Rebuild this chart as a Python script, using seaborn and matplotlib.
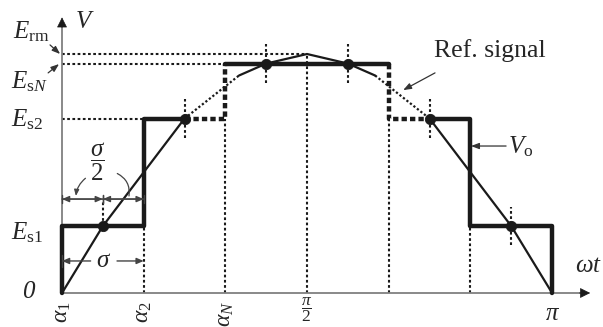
import numpy as np
import pandas as pd
import seaborn as sns
import matplotlib
matplotlib.use("Agg")
import matplotlib.pyplot as plt

# staircase data (angles in degrees, levels relative to E_rm)
step_edges = [0, 30, 60, 120, 150, 180]          # alpha1, alpha2, alphaN, pi-alphaN, pi-alpha2, pi
step_levels = [0.28, 0.73, 0.96, 0.73, 0.28]     # Es1, Es2, EsN, Es2, Es1
E_rm = 1.0

ref_x = [0, 15, 45, 65, 75, 90, 105, 115, 135, 165, 180]
ref_y = [0, 0.28, 0.73, 0.91, 0.96, 1.0, 0.96, 0.91, 0.73, 0.28, 0]

# sampling points (mid-step)
dot_x = [15, 45, 75, 105, 135, 165]
dot_y = [0.28, 0.73, 0.96, 0.96, 0.73, 0.28]

sns.set_theme(style="white")
plt.rcParams['font.family'] = ['Liberation Serif', 'DejaVu Serif']
plt.rcParams['mathtext.fontset'] = 'custom'
plt.rcParams['mathtext.rm'] = 'Liberation Serif'
plt.rcParams['mathtext.it'] = 'Liberation Serif:italic'
plt.rcParams['mathtext.bf'] = 'Liberation Serif:bold'

fig = plt.figure(figsize=(6.03, 3.27), dpi=100)
ax = fig.add_axes([0, 0, 1, 1])
ax.set_xlim(-22.78, 198.7)
ax.set_ylim(-0.1423, 1.226)
ax.axis('off')

dot_ls = (0, (1.3, 1.2))

# guide lines
Es1, Es2, EsN = step_levels[0], step_levels[1], step_levels[2]
ax.plot([0, 90], [E_rm, E_rm], color='k', lw=1.5, ls=dot_ls)
ax.plot([0, step_edges[2]], [EsN, EsN], color='k', lw=1.5, ls=dot_ls)
ax.plot([0, step_edges[1]], [Es2, Es2], color='k', lw=1.5, ls=dot_ls)
ax.plot([90, 90], [0, E_rm], color='k', lw=1.5, ls=dot_ls)
for i in range(1, 5):
    lev = min(step_levels[i - 1], step_levels[i])
    ax.plot([step_edges[i]] * 2, [0, lev], color='k', lw=1.5, ls=dot_ls)
for j, (dx, dy) in enumerate(zip(dot_x, dot_y)):
    lo = dy if j == 0 else dy - 0.08
    hi = 0.39 if j == 0 else dy + 0.08
    ax.plot([dx, dx], [lo, hi], color='k', lw=1.5, ls=dot_ls)

# axes with arrows
ax.plot([0, 0], [0, 1.12], color='#808080', lw=1.3)
ax.plot([0, 192], [0, 0], color='#808080', lw=1.3)
ax.annotate('', xy=(0, 1.165), xytext=(0, 1.10),
            arrowprops=dict(arrowstyle='-|>', color='k', lw=0.5, mutation_scale=16))
ax.annotate('', xy=(195, 0), xytext=(189, 0),
            arrowprops=dict(arrowstyle='-|>', color='k', lw=0.5, mutation_scale=16))

# staircase output V_o
sx, sy = [0], [0]
for i, lev in enumerate(step_levels):
    sx += [step_edges[i], step_edges[i + 1]]
    sy += [lev, lev]
sx.append(step_edges[-1])
sy.append(0)
stair = pd.DataFrame({'x': sx, 'y': sy})
solid1 = pd.concat([stair.iloc[:4], pd.DataFrame({'x': [dot_x[1]], 'y': [Es2]})])
dash1 = pd.DataFrame({'x': [dot_x[1], step_edges[2], step_edges[2]], 'y': [Es2, Es2, EsN]})
solid2 = stair.iloc[5:7]
dash2 = pd.DataFrame({'x': [step_edges[3], step_edges[3], dot_x[4]], 'y': [EsN, Es2, Es2]})
solid3 = pd.concat([pd.DataFrame({'x': [dot_x[4]], 'y': [Es2]}), stair.iloc[8:]])

for seg in [solid1, solid2, solid3]:
    sns.lineplot(data=seg, x='x', y='y', sort=False, estimator=None, color='k', lw=3.2, ax=ax)
for seg in [dash1, dash2]:
    sns.lineplot(data=seg, x='x', y='y', sort=False, estimator=None, color='k', lw=3.2,
                 ls=(0, (1.2, 0.7)), ax=ax)

# reference signal
ref = pd.DataFrame({'x': ref_x, 'y': ref_y})
for a, b in [(0, 45), (65, 115), (135, 180)]:
    part = ref[(ref.x >= a) & (ref.x <= b)]
    sns.lineplot(data=part, x='x', y='y', sort=False, estimator=None, color='k', lw=1.6, ax=ax)
for a, b in [(45, 65), (115, 135)]:
    part = ref[(ref.x >= a) & (ref.x <= b)]
    sns.lineplot(data=part, x='x', y='y', sort=False, estimator=None, color='k', lw=1.6,
                 ls=(0, (1, 1)), ax=ax)

sns.scatterplot(x=dot_x, y=dot_y, color='k', s=55, edgecolor='k', zorder=5, ax=ax)

# dimension arrows sigma/2 and sigma
dim = dict(arrowstyle='|-|,widthA=0.25,widthB=0.25', color='#444444', lw=1.0,
           shrinkA=0, shrinkB=0)
head = dict(arrowstyle='<|-|>,head_length=0.35,head_width=0.15', color='#444444', lw=1.0,
            shrinkA=0, shrinkB=0)
for a, b in [(0, dot_x[0]), (dot_x[0], step_edges[1])]:
    ax.annotate('', xy=(b, 0.393), xytext=(a, 0.393), arrowprops=head)
    ax.annotate('', xy=(b, 0.393), xytext=(a, 0.393), arrowprops=dim)
ax.annotate('', xy=(0, 0.134), xytext=(10.5, 0.134),
            arrowprops=dict(arrowstyle='-|>,head_length=0.35,head_width=0.15', color='#444444',
                            lw=1.0, shrinkA=0, shrinkB=0))
ax.annotate('', xy=(step_edges[1], 0.134), xytext=(20.2, 0.134),
            arrowprops=dict(arrowstyle='-|>,head_length=0.35,head_width=0.15', color='#444444',
                            lw=1.0, shrinkA=0, shrinkB=0))
ax.plot([0, 0], [0.11, 0.16], color='#444444', lw=1.0)
ax.text(15.1, 0.134, r'$\sigma$', fontsize=18, ha='center', va='center')
ax.text(13.2, 0.548, r'$\dfrac{\sigma}{2}$', fontsize=18, ha='center', va='center')
ax.annotate('', xy=(5.1, 0.406), xytext=(8.6, 0.48),
            arrowprops=dict(arrowstyle='-|>,head_length=0.3,head_width=0.12', color='#444444',
                            lw=0.9, connectionstyle='arc3,rad=0.2', shrinkA=0, shrinkB=0))
ax.annotate('', xy=(24.6, 0.406), xytext=(20.3, 0.50),
            arrowprops=dict(arrowstyle='-', color='#444444', lw=0.9,
                            connectionstyle='arc3,rad=-0.35', shrinkA=0, shrinkB=0))

# labels
lab = dict(fontsize=18, ha='center', va='center')
ax.text(-11.4, 1.092, r'$E_{\mathrm{rm}}$', **lab)
ax.text(-11.8, 0.883, r'$E_{\mathrm{s}N}$', **lab)
ax.text(-12.9, 0.724, r'$E_{\mathrm{s2}}$', **lab)
ax.text(-12.9, 0.251, r'$E_{\mathrm{s1}}$', **lab)
ax.text(-12.5, 0.004, '0', style='italic', **lab)
ax.text(8.4, 1.134, r'$V$', **lab)
ax.text(198.5, 0.113, r'$\omega t$', fontsize=18, ha='right', va='center')
ax.text(168.5, 0.611, r'$V_{\mathrm{o}}$', **lab)
ax.text(157.2, 1.015, 'Ref. signal', fontsize=18.5, ha='center', va='center')

arr = dict(arrowstyle='-|>,head_length=0.4,head_width=0.15', color='#333333', lw=0.9,
           shrinkA=0, shrinkB=0)
ax.annotate('', xy=(-0.7, 1.0), xytext=(-4.4, 1.038), arrowprops=arr)
ax.annotate('', xy=(-1.1, 0.958), xytext=(-5.1, 0.921), arrowprops=arr)
ax.annotate('', xy=(125.3, 0.849), xytext=(137.0, 0.921), arrowprops=arr)
ax.annotate('', xy=(150.2, 0.615), xytext=(163.1, 0.615), arrowprops=arr)

# x-axis labels
ax.text(step_edges[0], -0.033, r'$\alpha_1$', fontsize=17, rotation=90, ha='center', va='top')
ax.text(step_edges[1], -0.033, r'$\alpha_2$', fontsize=17, rotation=90, ha='center', va='top')
ax.text(step_edges[2], -0.033, r'$\alpha_N$', fontsize=17, rotation=90, ha='center', va='top')
ax.text(90, -0.012, r'$\dfrac{\pi}{2}$', fontsize=12.5, ha='center', va='top')
ax.text(180, -0.042, r'$\pi$', fontsize=18, ha='center', va='top')

fig.savefig('out.png', dpi=100)
